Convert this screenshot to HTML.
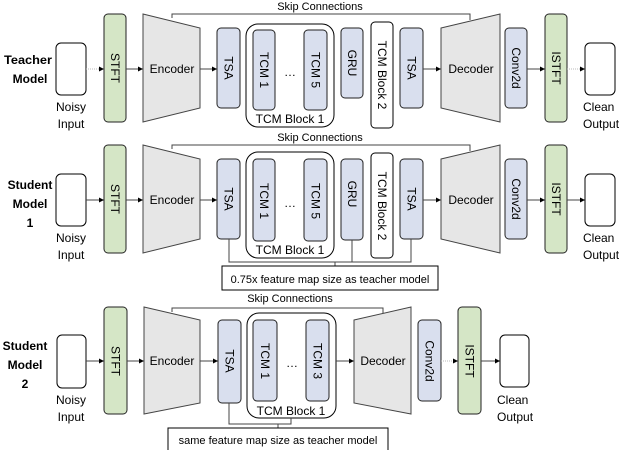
<!DOCTYPE html>
<html><head><meta charset="utf-8"><style>html,body{margin:0;padding:0;background:#fff}svg{display:block}</style></head><body>
<svg width="624" height="450" viewBox="0 0 624 450" xmlns="http://www.w3.org/2000/svg" font-family="Liberation Sans, sans-serif" font-size="12" fill="#000">
<defs><marker id="a" markerWidth="6" markerHeight="6" refX="5" refY="3" orient="auto" markerUnits="userSpaceOnUse"><path d="M0,0.5 L5,3 L0,5.5z" fill="#000"/></marker></defs>
<style>
.g{fill:#d5e6c6;stroke:#222;stroke-width:1}
.b{fill:#d9dfee;stroke:#222;stroke-width:1}
.w{fill:#fff;stroke:#000;stroke-width:1}
.t{fill:#e6e6e6;stroke:#444;stroke-width:1}
.l{stroke:#444;stroke-width:1;fill:none}
.ar{stroke:#444;stroke-width:1;marker-end:url(#a)}
.dt{stroke:#bbb;stroke-width:1;stroke-dasharray:1 1;marker-end:url(#a)}
.v{text-anchor:middle;dominant-baseline:central}
.bold{font-weight:bold;font-size:12px;text-anchor:middle}
</style>

<!-- ROW 1 -->
<g>
<text x="320" y="10" text-anchor="middle" font-size="11">Skip Connections</text>
<path class="l" d="M172,18 V14 H470 V20"/>
<text class="bold" x="28" y="64" textLength="48" lengthAdjust="spacingAndGlyphs">Teacher</text><text class="bold" x="30" y="83">Model</text>
<rect class="w" x="56" y="43" width="30" height="52" rx="5"/>
<text x="71" y="111" text-anchor="middle">Noisy</text><text x="71" y="128" text-anchor="middle">Input</text>
<line class="dt" x1="86" y1="69" x2="104" y2="69"/>
<rect class="g" x="104" y="14" width="22" height="108" rx="4"/>
<text class="v" transform="rotate(90 115 68)" x="115" y="68">STFT</text>
<line class="ar" x1="126" y1="69" x2="143" y2="69"/>
<path class="t" d="M143,14 L200,28 L200,108 L143,122Z"/>
<text x="172" y="73" text-anchor="middle">Encoder</text>
<line class="ar" x1="200" y1="69" x2="217" y2="69"/>
<rect class="b" x="217" y="28" width="23" height="80" rx="4"/>
<text class="v" transform="rotate(90 228.5 68)" x="228.5" y="68">TSA</text>
<rect class="w" x="246" y="24" width="88" height="103" rx="12"/>
<rect class="b" x="253" y="30" width="22" height="80" rx="4"/>
<text class="v" transform="rotate(90 264 70)" x="264" y="70">TCM 1</text>
<text x="290" y="76" text-anchor="middle">…</text>
<rect class="b" x="304" y="30" width="23" height="80" rx="4"/>
<text class="v" transform="rotate(90 315.5 70)" x="315.5" y="70">TCM 5</text>
<text x="290" y="123" text-anchor="middle">TCM Block 1</text>
<rect class="b" x="341" y="28" width="22" height="70" rx="4"/>
<text class="v" transform="rotate(90 352 63)" x="352" y="63">GRU</text>
<rect class="w" x="371" y="22" width="22" height="106" rx="4"/>
<text class="v" transform="rotate(90 382 75)" x="382" y="75">TCM Block 2</text>
<rect class="b" x="400" y="28" width="23" height="80" rx="4"/>
<text class="v" transform="rotate(90 411.5 68)" x="411.5" y="68">TSA</text>
<line class="ar" x1="423" y1="69" x2="441" y2="69"/>
<path class="t" d="M441,28 L500,14 L500,122 L441,108Z"/>
<text x="471" y="73" text-anchor="middle">Decoder</text>
<rect class="b" x="505" y="28" width="22" height="80" rx="4"/>
<text class="v" transform="rotate(90 516 68)" x="516" y="68">Conv2d</text>
<line class="ar" x1="527" y1="69" x2="545" y2="69"/>
<rect class="g" x="545" y="14" width="22" height="108" rx="4"/>
<text class="v" transform="rotate(90 556 68)" x="556" y="68">ISTFT</text>
<line class="dt" x1="567" y1="69" x2="585" y2="69"/>
<rect class="w" x="585" y="43" width="30" height="52" rx="5"/>
<text x="583" y="111">Clean</text><text x="583" y="128">Output</text>
</g>

<!-- ROW 2 -->
<g transform="translate(0,131)">
<text x="320" y="10" text-anchor="middle" font-size="11">Skip Connections</text>
<path class="l" d="M172,18 V14 H470 V20"/>
<text class="bold" x="30" y="58">Student</text><text class="bold" x="30" y="77">Model</text><text class="bold" x="30" y="96">1</text>
<rect class="w" x="56" y="43" width="30" height="52" rx="5"/>
<text x="71" y="111" text-anchor="middle">Noisy</text><text x="71" y="128" text-anchor="middle">Input</text>
<line class="ar" x1="86" y1="69" x2="104" y2="69"/>
<rect class="g" x="104" y="14" width="22" height="108" rx="4"/>
<text class="v" transform="rotate(90 115 68)" x="115" y="68">STFT</text>
<line class="ar" x1="126" y1="69" x2="143" y2="69"/>
<path class="t" d="M143,14 L200,28 L200,108 L143,122Z"/>
<text x="172" y="73" text-anchor="middle">Encoder</text>
<line class="ar" x1="200" y1="69" x2="217" y2="69"/>
<rect class="b" x="217" y="28" width="23" height="80" rx="4"/>
<text class="v" transform="rotate(90 228.5 68)" x="228.5" y="68">TSA</text>
<rect class="w" x="246" y="21" width="88" height="106" rx="12"/>
<rect class="b" x="253" y="28" width="22" height="82" rx="4"/>
<text class="v" transform="rotate(90 264 70)" x="264" y="70">TCM 1</text>
<text x="290" y="76" text-anchor="middle">…</text>
<rect class="b" x="304" y="28" width="23" height="82" rx="4"/>
<text class="v" transform="rotate(90 315.5 70)" x="315.5" y="70">TCM 5</text>
<text x="290" y="123" text-anchor="middle">TCM Block 1</text>
<rect class="b" x="341" y="28" width="22" height="81" rx="4"/>
<text class="v" transform="rotate(90 352 63)" x="352" y="63">GRU</text>
<rect class="w" x="371" y="22" width="22" height="105" rx="4"/>
<text class="v" transform="rotate(90 382 75)" x="382" y="75">TCM Block 2</text>
<rect class="b" x="400" y="28" width="23" height="80" rx="4"/>
<text class="v" transform="rotate(90 411.5 68)" x="411.5" y="68">TSA</text>
<line class="ar" x1="423" y1="69" x2="441" y2="69"/>
<path class="t" d="M441,28 L500,14 L500,122 L441,108Z"/>
<text x="471" y="73" text-anchor="middle">Decoder</text>
<rect class="b" x="505" y="28" width="22" height="80" rx="4"/>
<text class="v" transform="rotate(90 516 68)" x="516" y="68">Conv2d</text>
<line class="ar" x1="527" y1="69" x2="545" y2="69"/>
<rect class="g" x="545" y="14" width="22" height="108" rx="4"/>
<text class="v" transform="rotate(90 556 68)" x="556" y="68">ISTFT</text>
<line class="ar" x1="567" y1="69" x2="585" y2="69"/>
<rect class="w" x="585" y="43" width="30" height="52" rx="5"/>
<text x="583" y="111">Clean</text><text x="583" y="128">Output</text>
<path class="l" d="M229,108 V131 H411 V108 M352,109 V131 M335,131 V135"/>
<rect class="w" x="222" y="135" width="216" height="24"/>
<text x="330" y="152" text-anchor="middle" font-size="11">0.75x feature map size as teacher model</text>
</g>

<!-- ROW 3 -->
<g>
<text x="290" y="302" text-anchor="middle" font-size="11">Skip Connections</text>
<path class="l" d="M172,312 V308 H383 V313"/>
<text class="bold" x="25" y="350">Student</text><text class="bold" x="25" y="369">Model</text><text class="bold" x="25" y="388">2</text>
<rect class="w" x="57" y="335" width="29" height="53" rx="5"/>
<text x="71" y="404" text-anchor="middle">Noisy</text><text x="71" y="421" text-anchor="middle">Input</text>
<line class="ar" x1="86" y1="361" x2="104" y2="361"/>
<rect class="g" x="104" y="307" width="23" height="107" rx="4"/>
<text class="v" transform="rotate(90 115.5 361)" x="115.5" y="361">STFT</text>
<line class="ar" x1="127" y1="361" x2="144" y2="361"/>
<path class="t" d="M144,307 L200,320 L200,403 L144,414Z"/>
<text x="172" y="365" text-anchor="middle">Encoder</text>
<line class="ar" x1="200" y1="361" x2="218" y2="361"/>
<rect class="b" x="218" y="320" width="23" height="83" rx="4"/>
<text class="v" transform="rotate(90 229.5 361)" x="229.5" y="361">TSA</text>
<rect class="w" x="247" y="313" width="89" height="105" rx="12"/>
<rect class="b" x="253" y="320" width="24" height="81" rx="4"/>
<text class="v" transform="rotate(90 265 361)" x="265" y="361">TCM 1</text>
<text x="292" y="367" text-anchor="middle">…</text>
<rect class="b" x="306" y="320" width="23" height="81" rx="4"/>
<text class="v" transform="rotate(90 317.5 361)" x="317.5" y="361">TCM 3</text>
<text x="291" y="415" text-anchor="middle">TCM Block 1</text>
<line class="ar" x1="336" y1="361" x2="354" y2="361"/>
<path class="t" d="M354,320 L411,307 L411,414 L354,403Z"/>
<text x="383" y="365" text-anchor="middle">Decoder</text>
<rect class="b" x="418" y="320" width="23" height="81" rx="4"/>
<text class="v" transform="rotate(90 429.5 361)" x="429.5" y="361">Conv2d</text>
<line class="dt" x1="441" y1="361" x2="458" y2="361"/>
<rect class="g" x="458" y="307" width="23" height="107" rx="4"/>
<text class="v" transform="rotate(90 469.5 361)" x="469.5" y="361">ISTFT</text>
<line class="ar" x1="481" y1="361" x2="500" y2="361"/>
<rect class="w" x="500" y="335" width="29" height="52" rx="5"/>
<text x="497" y="404">Clean</text><text x="497" y="421">Output</text>
<path class="l" d="M229,403 V424 H291 V418 M278,424 V428"/>
<rect class="w" x="168" y="428" width="220" height="24"/>
<text x="278" y="444" text-anchor="middle" font-size="11">same feature map size as teacher model</text>
</g>
</svg>
</body></html>
